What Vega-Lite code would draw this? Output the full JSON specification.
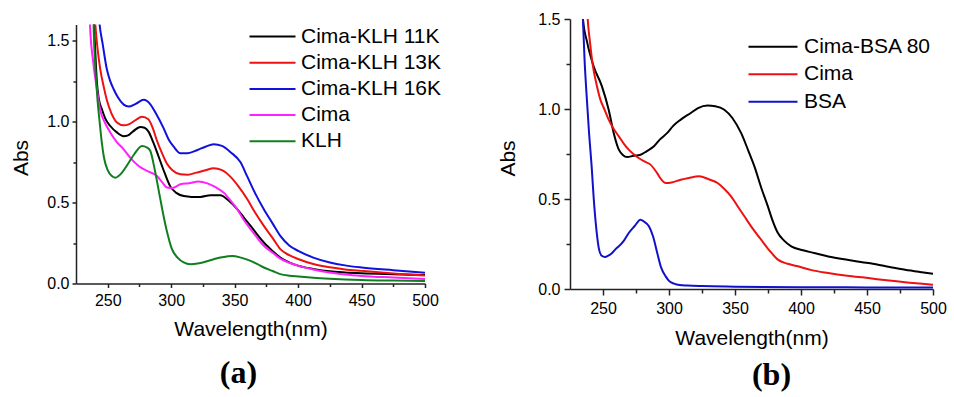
{
  "$schema": "https://vega.github.io/schema/vega-lite/v6.json",
  "background": "white",
  "padding": {"left": 10, "top": 11, "right": 5, "bottom": 5},
  "config": {
    "view": {"stroke": null},
    "font": "Liberation Sans",
    "axis": {
      "labelFont": "Liberation Sans", "titleFont": "Liberation Sans",
      "labelColor": "black", "titleColor": "black",
      "domainColor": "#222222", "tickColor": "#222222",
      "domainWidth": 1.5, "tickWidth": 1.5,
      "grid": false, "titleFontWeight": "normal", "labelFlush": false
    }
  },
  "datasets": {
    "a": [
      {"series": "Cima-KLH 11K", "wl": 238.5, "abs": 1.72},
      {"series": "Cima-KLH 11K", "wl": 239.5, "abs": 1.55},
      {"series": "Cima-KLH 11K", "wl": 241.5, "abs": 1.24},
      {"series": "Cima-KLH 11K", "wl": 243, "abs": 1.14},
      {"series": "Cima-KLH 11K", "wl": 245.5, "abs": 1.075},
      {"series": "Cima-KLH 11K", "wl": 248, "abs": 1.02},
      {"series": "Cima-KLH 11K", "wl": 252, "abs": 0.973},
      {"series": "Cima-KLH 11K", "wl": 257, "abs": 0.935},
      {"series": "Cima-KLH 11K", "wl": 262.6, "abs": 0.91},
      {"series": "Cima-KLH 11K", "wl": 266, "abs": 0.915},
      {"series": "Cima-KLH 11K", "wl": 270, "abs": 0.94},
      {"series": "Cima-KLH 11K", "wl": 275.7, "abs": 0.967},
      {"series": "Cima-KLH 11K", "wl": 279, "abs": 0.962},
      {"series": "Cima-KLH 11K", "wl": 282, "abs": 0.94},
      {"series": "Cima-KLH 11K", "wl": 286, "abs": 0.87},
      {"series": "Cima-KLH 11K", "wl": 290, "abs": 0.786},
      {"series": "Cima-KLH 11K", "wl": 295, "abs": 0.68},
      {"series": "Cima-KLH 11K", "wl": 299.3, "abs": 0.6},
      {"series": "Cima-KLH 11K", "wl": 304, "abs": 0.56},
      {"series": "Cima-KLH 11K", "wl": 309.9, "abs": 0.54},
      {"series": "Cima-KLH 11K", "wl": 316, "abs": 0.535},
      {"series": "Cima-KLH 11K", "wl": 323, "abs": 0.535},
      {"series": "Cima-KLH 11K", "wl": 331, "abs": 0.545},
      {"series": "Cima-KLH 11K", "wl": 338.7, "abs": 0.545},
      {"series": "Cima-KLH 11K", "wl": 345, "abs": 0.515},
      {"series": "Cima-KLH 11K", "wl": 352, "abs": 0.46},
      {"series": "Cima-KLH 11K", "wl": 357, "abs": 0.41},
      {"series": "Cima-KLH 11K", "wl": 362.6, "abs": 0.356},
      {"series": "Cima-KLH 11K", "wl": 368, "abs": 0.3},
      {"series": "Cima-KLH 11K", "wl": 373, "abs": 0.253},
      {"series": "Cima-KLH 11K", "wl": 380, "abs": 0.2},
      {"series": "Cima-KLH 11K", "wl": 386, "abs": 0.16},
      {"series": "Cima-KLH 11K", "wl": 393, "abs": 0.13},
      {"series": "Cima-KLH 11K", "wl": 400.5, "abs": 0.109},
      {"series": "Cima-KLH 11K", "wl": 412, "abs": 0.09},
      {"series": "Cima-KLH 11K", "wl": 425, "abs": 0.075},
      {"series": "Cima-KLH 11K", "wl": 437, "abs": 0.068},
      {"series": "Cima-KLH 11K", "wl": 450, "abs": 0.063},
      {"series": "Cima-KLH 11K", "wl": 475, "abs": 0.057},
      {"series": "Cima-KLH 11K", "wl": 500, "abs": 0.052},

      {"series": "Cima-KLH 13K", "wl": 239, "abs": 1.72},
      {"series": "Cima-KLH 13K", "wl": 240.2, "abs": 1.6},
      {"series": "Cima-KLH 13K", "wl": 242, "abs": 1.45},
      {"series": "Cima-KLH 13K", "wl": 244.2, "abs": 1.32},
      {"series": "Cima-KLH 13K", "wl": 247, "abs": 1.21},
      {"series": "Cima-KLH 13K", "wl": 249.4, "abs": 1.13},
      {"series": "Cima-KLH 13K", "wl": 253, "abs": 1.05},
      {"series": "Cima-KLH 13K", "wl": 257.3, "abs": 0.995},
      {"series": "Cima-KLH 13K", "wl": 262.6, "abs": 0.977},
      {"series": "Cima-KLH 13K", "wl": 267, "abs": 0.985},
      {"series": "Cima-KLH 13K", "wl": 272, "abs": 1.01},
      {"series": "Cima-KLH 13K", "wl": 277, "abs": 1.03},
      {"series": "Cima-KLH 13K", "wl": 282, "abs": 1.015},
      {"series": "Cima-KLH 13K", "wl": 285.5, "abs": 0.96},
      {"series": "Cima-KLH 13K", "wl": 288.8, "abs": 0.882},
      {"series": "Cima-KLH 13K", "wl": 292.5, "abs": 0.81},
      {"series": "Cima-KLH 13K", "wl": 296.7, "abs": 0.74},
      {"series": "Cima-KLH 13K", "wl": 301, "abs": 0.7},
      {"series": "Cima-KLH 13K", "wl": 307.2, "abs": 0.675},
      {"series": "Cima-KLH 13K", "wl": 313, "abs": 0.672},
      {"series": "Cima-KLH 13K", "wl": 320, "abs": 0.685},
      {"series": "Cima-KLH 13K", "wl": 327, "abs": 0.7},
      {"series": "Cima-KLH 13K", "wl": 333.5, "abs": 0.712},
      {"series": "Cima-KLH 13K", "wl": 340, "abs": 0.7},
      {"series": "Cima-KLH 13K", "wl": 346.6, "abs": 0.66},
      {"series": "Cima-KLH 13K", "wl": 353, "abs": 0.6},
      {"series": "Cima-KLH 13K", "wl": 360, "abs": 0.52},
      {"series": "Cima-KLH 13K", "wl": 366, "abs": 0.44},
      {"series": "Cima-KLH 13K", "wl": 373, "abs": 0.356},
      {"series": "Cima-KLH 13K", "wl": 380, "abs": 0.28},
      {"series": "Cima-KLH 13K", "wl": 386, "abs": 0.212},
      {"series": "Cima-KLH 13K", "wl": 393, "abs": 0.175},
      {"series": "Cima-KLH 13K", "wl": 400.5, "abs": 0.15},
      {"series": "Cima-KLH 13K", "wl": 412, "abs": 0.12},
      {"series": "Cima-KLH 13K", "wl": 425, "abs": 0.1},
      {"series": "Cima-KLH 13K", "wl": 437, "abs": 0.087},
      {"series": "Cima-KLH 13K", "wl": 450, "abs": 0.078},
      {"series": "Cima-KLH 13K", "wl": 475, "abs": 0.062},
      {"series": "Cima-KLH 13K", "wl": 500, "abs": 0.05},

      {"series": "Cima-KLH 16K", "wl": 242.3, "abs": 1.72},
      {"series": "Cima-KLH 16K", "wl": 243.6, "abs": 1.6},
      {"series": "Cima-KLH 16K", "wl": 246, "abs": 1.48},
      {"series": "Cima-KLH 16K", "wl": 249.4, "abs": 1.32},
      {"series": "Cima-KLH 16K", "wl": 252, "abs": 1.25},
      {"series": "Cima-KLH 16K", "wl": 254.7, "abs": 1.2},
      {"series": "Cima-KLH 16K", "wl": 258, "abs": 1.15},
      {"series": "Cima-KLH 16K", "wl": 262.6, "abs": 1.105},
      {"series": "Cima-KLH 16K", "wl": 266.5, "abs": 1.093},
      {"series": "Cima-KLH 16K", "wl": 272, "abs": 1.11},
      {"series": "Cima-KLH 16K", "wl": 278.4, "abs": 1.135},
      {"series": "Cima-KLH 16K", "wl": 283.6, "abs": 1.107},
      {"series": "Cima-KLH 16K", "wl": 288, "abs": 1.05},
      {"series": "Cima-KLH 16K", "wl": 294, "abs": 0.96},
      {"series": "Cima-KLH 16K", "wl": 298, "abs": 0.89},
      {"series": "Cima-KLH 16K", "wl": 302, "abs": 0.845},
      {"series": "Cima-KLH 16K", "wl": 307.2, "abs": 0.805},
      {"series": "Cima-KLH 16K", "wl": 313, "abs": 0.805},
      {"series": "Cima-KLH 16K", "wl": 320.7, "abs": 0.825},
      {"series": "Cima-KLH 16K", "wl": 327, "abs": 0.845},
      {"series": "Cima-KLH 16K", "wl": 333.5, "abs": 0.86},
      {"series": "Cima-KLH 16K", "wl": 340, "abs": 0.85},
      {"series": "Cima-KLH 16K", "wl": 347, "abs": 0.81},
      {"series": "Cima-KLH 16K", "wl": 354.5, "abs": 0.75},
      {"series": "Cima-KLH 16K", "wl": 360, "abs": 0.66},
      {"series": "Cima-KLH 16K", "wl": 366, "abs": 0.56},
      {"series": "Cima-KLH 16K", "wl": 373, "abs": 0.459},
      {"series": "Cima-KLH 16K", "wl": 380, "abs": 0.37},
      {"series": "Cima-KLH 16K", "wl": 386, "abs": 0.294},
      {"series": "Cima-KLH 16K", "wl": 393, "abs": 0.235},
      {"series": "Cima-KLH 16K", "wl": 400.5, "abs": 0.2},
      {"series": "Cima-KLH 16K", "wl": 412, "abs": 0.16},
      {"series": "Cima-KLH 16K", "wl": 425, "abs": 0.13},
      {"series": "Cima-KLH 16K", "wl": 437, "abs": 0.112},
      {"series": "Cima-KLH 16K", "wl": 450, "abs": 0.099},
      {"series": "Cima-KLH 16K", "wl": 475, "abs": 0.082},
      {"series": "Cima-KLH 16K", "wl": 500, "abs": 0.067},

      {"series": "Cima", "wl": 235.3, "abs": 1.72},
      {"series": "Cima", "wl": 236.3, "abs": 1.55},
      {"series": "Cima", "wl": 238.5, "abs": 1.37},
      {"series": "Cima", "wl": 241.5, "abs": 1.2},
      {"series": "Cima", "wl": 244, "abs": 1.075},
      {"series": "Cima", "wl": 248, "abs": 0.99},
      {"series": "Cima", "wl": 252, "abs": 0.933},
      {"series": "Cima", "wl": 257, "abs": 0.875},
      {"series": "Cima", "wl": 262.6, "abs": 0.829},
      {"series": "Cima", "wl": 268, "abs": 0.775},
      {"series": "Cima", "wl": 274.4, "abs": 0.726},
      {"series": "Cima", "wl": 281, "abs": 0.695},
      {"series": "Cima", "wl": 288.8, "abs": 0.664},
      {"series": "Cima", "wl": 293, "abs": 0.625},
      {"series": "Cima", "wl": 296.7, "abs": 0.593},
      {"series": "Cima", "wl": 301, "abs": 0.59},
      {"series": "Cima", "wl": 307.2, "abs": 0.613},
      {"series": "Cima", "wl": 314, "abs": 0.62},
      {"series": "Cima", "wl": 321.7, "abs": 0.63},
      {"series": "Cima", "wl": 328, "abs": 0.62},
      {"series": "Cima", "wl": 335, "abs": 0.595},
      {"series": "Cima", "wl": 341.6, "abs": 0.56},
      {"series": "Cima", "wl": 347, "abs": 0.51},
      {"series": "Cima", "wl": 352, "abs": 0.459},
      {"series": "Cima", "wl": 357, "abs": 0.395},
      {"series": "Cima", "wl": 362.6, "abs": 0.335},
      {"series": "Cima", "wl": 368, "abs": 0.28},
      {"series": "Cima", "wl": 373, "abs": 0.233},
      {"series": "Cima", "wl": 380, "abs": 0.19},
      {"series": "Cima", "wl": 386, "abs": 0.154},
      {"series": "Cima", "wl": 393, "abs": 0.128},
      {"series": "Cima", "wl": 400.5, "abs": 0.109},
      {"series": "Cima", "wl": 412, "abs": 0.087},
      {"series": "Cima", "wl": 425, "abs": 0.068},
      {"series": "Cima", "wl": 437, "abs": 0.056},
      {"series": "Cima", "wl": 450, "abs": 0.047},
      {"series": "Cima", "wl": 475, "abs": 0.037},
      {"series": "Cima", "wl": 500, "abs": 0.028},

      {"series": "KLH", "wl": 238.5, "abs": 1.72},
      {"series": "KLH", "wl": 239, "abs": 1.55},
      {"series": "KLH", "wl": 240.5, "abs": 1.3},
      {"series": "KLH", "wl": 242, "abs": 1.13},
      {"series": "KLH", "wl": 243.6, "abs": 1.0},
      {"series": "KLH", "wl": 245.2, "abs": 0.88},
      {"series": "KLH", "wl": 247, "abs": 0.78},
      {"series": "KLH", "wl": 250, "abs": 0.7},
      {"series": "KLH", "wl": 253, "abs": 0.665},
      {"series": "KLH", "wl": 256, "abs": 0.654},
      {"series": "KLH", "wl": 261.2, "abs": 0.685},
      {"series": "KLH", "wl": 266, "abs": 0.74},
      {"series": "KLH", "wl": 271, "abs": 0.8},
      {"series": "KLH", "wl": 277, "abs": 0.849},
      {"series": "KLH", "wl": 281, "abs": 0.84},
      {"series": "KLH", "wl": 283.5, "abs": 0.82},
      {"series": "KLH", "wl": 287.5, "abs": 0.685},
      {"series": "KLH", "wl": 291, "abs": 0.54},
      {"series": "KLH", "wl": 294, "abs": 0.417},
      {"series": "KLH", "wl": 297, "abs": 0.31},
      {"series": "KLH", "wl": 300.6, "abs": 0.212},
      {"series": "KLH", "wl": 305, "abs": 0.16},
      {"series": "KLH", "wl": 309.9, "abs": 0.13},
      {"series": "KLH", "wl": 315, "abs": 0.119},
      {"series": "KLH", "wl": 322, "abs": 0.125},
      {"series": "KLH", "wl": 333.5, "abs": 0.15},
      {"series": "KLH", "wl": 340, "abs": 0.162},
      {"series": "KLH", "wl": 348, "abs": 0.17},
      {"series": "KLH", "wl": 355, "abs": 0.16},
      {"series": "KLH", "wl": 362.6, "abs": 0.14},
      {"series": "KLH", "wl": 368, "abs": 0.12},
      {"series": "KLH", "wl": 373, "abs": 0.099},
      {"series": "KLH", "wl": 380, "abs": 0.077},
      {"series": "KLH", "wl": 386, "abs": 0.058},
      {"series": "KLH", "wl": 393, "abs": 0.048},
      {"series": "KLH", "wl": 400.5, "abs": 0.043},
      {"series": "KLH", "wl": 412, "abs": 0.036},
      {"series": "KLH", "wl": 425, "abs": 0.03},
      {"series": "KLH", "wl": 450, "abs": 0.022},
      {"series": "KLH", "wl": 475, "abs": 0.018},
      {"series": "KLH", "wl": 500, "abs": 0.015}
    ],
    "b": [
      {"series": "Cima-BSA 80", "wl": 234, "abs": 1.62},
      {"series": "Cima-BSA 80", "wl": 234.8, "abs": 1.5},
      {"series": "Cima-BSA 80", "wl": 238, "abs": 1.37},
      {"series": "Cima-BSA 80", "wl": 242.9, "abs": 1.237},
      {"series": "Cima-BSA 80", "wl": 249.2, "abs": 1.126},
      {"series": "Cima-BSA 80", "wl": 254.3, "abs": 0.996},
      {"series": "Cima-BSA 80", "wl": 258.1, "abs": 0.867},
      {"series": "Cima-BSA 80", "wl": 262, "abs": 0.774},
      {"series": "Cima-BSA 80", "wl": 265, "abs": 0.745},
      {"series": "Cima-BSA 80", "wl": 268.3, "abs": 0.733},
      {"series": "Cima-BSA 80", "wl": 273, "abs": 0.74},
      {"series": "Cima-BSA 80", "wl": 278.4, "abs": 0.746},
      {"series": "Cima-BSA 80", "wl": 283, "abs": 0.765},
      {"series": "Cima-BSA 80", "wl": 288.6, "abs": 0.793},
      {"series": "Cima-BSA 80", "wl": 293, "abs": 0.83},
      {"series": "Cima-BSA 80", "wl": 298.7, "abs": 0.867},
      {"series": "Cima-BSA 80", "wl": 303, "abs": 0.905},
      {"series": "Cima-BSA 80", "wl": 308.9, "abs": 0.941},
      {"series": "Cima-BSA 80", "wl": 316.5, "abs": 0.978},
      {"series": "Cima-BSA 80", "wl": 322, "abs": 1.005},
      {"series": "Cima-BSA 80", "wl": 329.2, "abs": 1.019},
      {"series": "Cima-BSA 80", "wl": 335, "abs": 1.015},
      {"series": "Cima-BSA 80", "wl": 341.9, "abs": 0.996},
      {"series": "Cima-BSA 80", "wl": 348, "abs": 0.95},
      {"series": "Cima-BSA 80", "wl": 354.6, "abs": 0.867},
      {"series": "Cima-BSA 80", "wl": 360, "abs": 0.77},
      {"series": "Cima-BSA 80", "wl": 364.7, "abs": 0.681},
      {"series": "Cima-BSA 80", "wl": 370, "abs": 0.56},
      {"series": "Cima-BSA 80", "wl": 374.9, "abs": 0.459},
      {"series": "Cima-BSA 80", "wl": 378, "abs": 0.39},
      {"series": "Cima-BSA 80", "wl": 382.5, "abs": 0.311},
      {"series": "Cima-BSA 80", "wl": 387, "abs": 0.27},
      {"series": "Cima-BSA 80", "wl": 392.6, "abs": 0.237},
      {"series": "Cima-BSA 80", "wl": 401.5, "abs": 0.215},
      {"series": "Cima-BSA 80", "wl": 410, "abs": 0.2},
      {"series": "Cima-BSA 80", "wl": 420.6, "abs": 0.181},
      {"series": "Cima-BSA 80", "wl": 435, "abs": 0.162},
      {"series": "Cima-BSA 80", "wl": 451, "abs": 0.144},
      {"series": "Cima-BSA 80", "wl": 465, "abs": 0.125},
      {"series": "Cima-BSA 80", "wl": 478.9, "abs": 0.107},
      {"series": "Cima-BSA 80", "wl": 490, "abs": 0.095},
      {"series": "Cima-BSA 80", "wl": 500, "abs": 0.085},

      {"series": "Cima", "wl": 237.5, "abs": 1.62},
      {"series": "Cima", "wl": 238.4, "abs": 1.5},
      {"series": "Cima", "wl": 240, "abs": 1.38},
      {"series": "Cima", "wl": 242.4, "abs": 1.237},
      {"series": "Cima", "wl": 245, "abs": 1.14},
      {"series": "Cima", "wl": 248, "abs": 1.052},
      {"series": "Cima", "wl": 251, "abs": 1.0},
      {"series": "Cima", "wl": 254.3, "abs": 0.941},
      {"series": "Cima", "wl": 258, "abs": 0.89},
      {"series": "Cima", "wl": 262, "abs": 0.848},
      {"series": "Cima", "wl": 266, "abs": 0.805},
      {"series": "Cima", "wl": 269.5, "abs": 0.774},
      {"series": "Cima", "wl": 273, "abs": 0.75},
      {"series": "Cima", "wl": 277, "abs": 0.728},
      {"series": "Cima", "wl": 281, "abs": 0.71},
      {"series": "Cima", "wl": 286, "abs": 0.691},
      {"series": "Cima", "wl": 291, "abs": 0.644},
      {"series": "Cima", "wl": 294, "abs": 0.61},
      {"series": "Cima", "wl": 297.5, "abs": 0.589},
      {"series": "Cima", "wl": 302, "abs": 0.592},
      {"series": "Cima", "wl": 308.9, "abs": 0.607},
      {"series": "Cima", "wl": 315, "abs": 0.617},
      {"series": "Cima", "wl": 322.8, "abs": 0.626},
      {"series": "Cima", "wl": 330, "abs": 0.61},
      {"series": "Cima", "wl": 336.8, "abs": 0.589},
      {"series": "Cima", "wl": 342, "abs": 0.555},
      {"series": "Cima", "wl": 347, "abs": 0.515},
      {"series": "Cima", "wl": 352, "abs": 0.46},
      {"series": "Cima", "wl": 357.1, "abs": 0.404},
      {"series": "Cima", "wl": 363, "abs": 0.34},
      {"series": "Cima", "wl": 369.8, "abs": 0.274},
      {"series": "Cima", "wl": 376, "abs": 0.215},
      {"series": "Cima", "wl": 382.5, "abs": 0.163},
      {"series": "Cima", "wl": 390, "abs": 0.14},
      {"series": "Cima", "wl": 397.7, "abs": 0.126},
      {"series": "Cima", "wl": 408, "abs": 0.105},
      {"series": "Cima", "wl": 420.6, "abs": 0.089},
      {"series": "Cima", "wl": 435, "abs": 0.074},
      {"series": "Cima", "wl": 451, "abs": 0.061},
      {"series": "Cima", "wl": 465, "abs": 0.048},
      {"series": "Cima", "wl": 478.9, "abs": 0.037},
      {"series": "Cima", "wl": 490, "abs": 0.03},
      {"series": "Cima", "wl": 500, "abs": 0.024},

      {"series": "BSA", "wl": 234, "abs": 1.62},
      {"series": "BSA", "wl": 234.8, "abs": 1.5},
      {"series": "BSA", "wl": 236, "abs": 1.28},
      {"series": "BSA", "wl": 237.8, "abs": 1.052},
      {"series": "BSA", "wl": 239.5, "abs": 0.86},
      {"series": "BSA", "wl": 241.4, "abs": 0.681},
      {"series": "BSA", "wl": 243, "abs": 0.5},
      {"series": "BSA", "wl": 245, "abs": 0.33},
      {"series": "BSA", "wl": 247, "abs": 0.22},
      {"series": "BSA", "wl": 249, "abs": 0.185},
      {"series": "BSA", "wl": 251.5, "abs": 0.178},
      {"series": "BSA", "wl": 254, "abs": 0.185},
      {"series": "BSA", "wl": 256.9, "abs": 0.2},
      {"series": "BSA", "wl": 260, "abs": 0.225},
      {"series": "BSA", "wl": 262, "abs": 0.237},
      {"series": "BSA", "wl": 266, "abs": 0.27},
      {"series": "BSA", "wl": 269.5, "abs": 0.311},
      {"series": "BSA", "wl": 274, "abs": 0.35},
      {"series": "BSA", "wl": 278.4, "abs": 0.385},
      {"series": "BSA", "wl": 281, "abs": 0.375},
      {"series": "BSA", "wl": 284.8, "abs": 0.348},
      {"series": "BSA", "wl": 288, "abs": 0.29},
      {"series": "BSA", "wl": 291.1, "abs": 0.2},
      {"series": "BSA", "wl": 294, "abs": 0.12},
      {"series": "BSA", "wl": 297.5, "abs": 0.07},
      {"series": "BSA", "wl": 300, "abs": 0.045},
      {"series": "BSA", "wl": 303.8, "abs": 0.03},
      {"series": "BSA", "wl": 308, "abs": 0.022},
      {"series": "BSA", "wl": 314, "abs": 0.019},
      {"series": "BSA", "wl": 325, "abs": 0.016},
      {"series": "BSA", "wl": 350, "abs": 0.013},
      {"series": "BSA", "wl": 400, "abs": 0.01},
      {"series": "BSA", "wl": 450, "abs": 0.009},
      {"series": "BSA", "wl": 500, "abs": 0.008}
    ]
  },
  "spacing": 145,
  "bounds": "flush",
  "center": true,
  "resolve": {
    "scale": {"x": "independent", "y": "independent", "color": "independent"},
    "axis": {"x": "independent", "y": "independent"},
    "legend": {"color": "independent"}
  },
  "hconcat": [
    {
      "width": 349,
      "height": 259,
      "data": {"name": "a"},
      "title": {"text": "(a)", "orient": "bottom", "frame": "group", "anchor": "middle", "dx": -12, "offset": 18, "font": "Liberation Serif", "fontSize": 32, "fontWeight": "bold", "color": "black"},
      "resolve": {"axis": {"x": "independent", "y": "independent"}},
      "layer": [
        {
          "mark": {"type": "line", "clip": true, "strokeWidth": 2, "interpolate": "monotone"},
          "encoding": {
            "x": {"field": "wl", "type": "quantitative",
                  "scale": {"domain": [225, 500], "nice": false, "zero": false},
                  "axis": {"orient": "bottom", "values": [250, 300, 350, 400, 450, 500], "tickSize": 4, "labelPadding": 5, "labelFontSize": 16, "title": "Wavelength(nm)", "titleFontSize": 21, "titlePadding": 10}},
            "y": {"field": "abs", "type": "quantitative",
                  "scale": {"domain": [0, 1.6], "nice": false},
                  "axis": {"orient": "left", "values": [0, 0.5, 1, 1.5], "format": ".1f", "tickSize": 4, "labelPadding": 3, "labelFontSize": 16, "title": "Abs", "titleFontSize": 21, "titlePadding": 15, "titleY": 133}},
            "color": {"field": "series", "type": "nominal",
                      "scale": {"domain": ["Cima-KLH 11K", "Cima-KLH 13K", "Cima-KLH 16K", "Cima", "KLH"], "range": ["#000000", "#ee1111", "#1111dd", "#ff22ff", "#0f7f1f"]},
                      "legend": {"title": null, "orient": "none", "legendX": 186, "legendY": 1.5, "padding": 0, "symbolType": "M-11.5,0H11.5", "symbolSize": 16, "symbolStrokeWidth": 2, "labelFont": "Liberation Sans", "labelFontSize": 21, "labelColor": "black", "labelOffset": 18, "rowPadding": 4.2, "labelLimit": 400}}
          }
        },
        {
          "mark": {"type": "point", "opacity": 0, "clip": true},
          "encoding": {
            "x": {"field": "wl", "type": "quantitative",
                  "axis": {"orient": "bottom", "values": [275, 325, 375, 425, 475], "tickSize": 3, "labels": false, "domain": false, "title": null}},
            "y": {"field": "abs", "type": "quantitative",
                  "axis": {"orient": "left", "values": [0.25, 0.75, 1.25], "tickSize": 3, "labels": false, "domain": false, "title": null}}
          }
        }
      ]
    },
    {
      "width": 363,
      "height": 270,
      "data": {"name": "b"},
      "title": {"text": "(b)", "orient": "bottom", "frame": "group", "anchor": "middle", "dx": 20, "offset": 12, "font": "Liberation Serif", "fontSize": 32, "fontWeight": "bold", "color": "black"},
      "resolve": {"axis": {"x": "independent", "y": "independent"}},
      "layer": [
        {
          "mark": {"type": "line", "clip": true, "strokeWidth": 2, "interpolate": "monotone"},
          "encoding": {
            "x": {"field": "wl", "type": "quantitative",
                  "scale": {"domain": [225, 500], "nice": false, "zero": false},
                  "axis": {"orient": "bottom", "values": [250, 300, 350, 400, 450, 500], "tickSize": 6, "labelPadding": 5, "labelFontSize": 16, "title": "Wavelength(nm)", "titleFontSize": 21, "titlePadding": 11}},
            "y": {"field": "abs", "type": "quantitative",
                  "scale": {"domain": [0, 1.5], "nice": false},
                  "axis": {"orient": "left", "values": [0, 0.5, 1, 1.5], "format": ".1f", "tickSize": 6, "labelPadding": 4, "labelFontSize": 16, "title": "Abs", "titleFontSize": 21, "titlePadding": 19, "titleY": 139}},
            "color": {"field": "series", "type": "nominal",
                      "scale": {"domain": ["Cima-BSA 80", "Cima", "BSA"], "range": ["#000000", "#ee1111", "#1111cc"]},
                      "legend": {"title": null, "orient": "none", "legendX": 192.5, "legendY": 17.2, "padding": 0, "symbolType": "M-12.25,0H12.25", "symbolSize": 16, "symbolStrokeWidth": 2, "labelFont": "Liberation Sans", "labelFontSize": 21, "labelColor": "black", "labelOffset": 20.5, "rowPadding": 5.5, "labelLimit": 400}}
          }
        },
        {
          "mark": {"type": "point", "opacity": 0, "clip": true},
          "encoding": {
            "x": {"field": "wl", "type": "quantitative",
                  "axis": {"orient": "bottom", "values": [275, 325, 375, 425, 475], "tickSize": 4, "labels": false, "domain": false, "title": null}},
            "y": {"field": "abs", "type": "quantitative",
                  "axis": {"orient": "left", "values": [0.25, 0.75, 1.25], "tickSize": 4, "labels": false, "domain": false, "title": null}}
          }
        }
      ]
    }
  ]
}
